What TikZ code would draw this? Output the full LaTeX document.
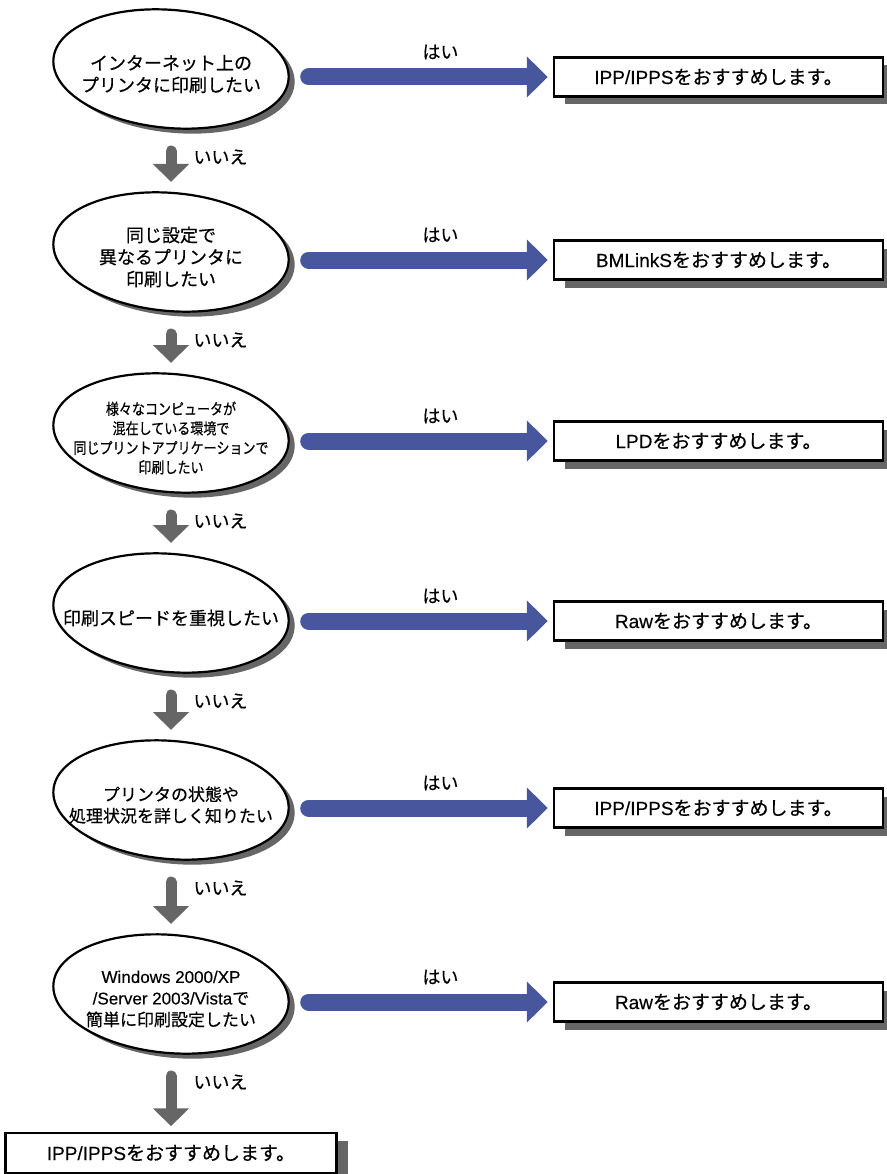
\documentclass[tikz,border=0pt]{standalone}
\usepackage{fontspec}
\newfontfamily\jpfont[FakeBold=0.5]{Noto Sans CJK JP}
\newfontfamily\jpnarrow[FakeStretch=0.84,FakeBold=0.5]{Noto Sans CJK JP}
\newfontfamily\enfont[FakeBold=0.3]{Liberation Sans}
\newcommand\en[1]{{\enfont #1}}
\usetikzlibrary{arrows.meta,shadows}
\pgfdeclarelayer{background}
\pgfsetlayers{background,main}
\definecolor{yesblue}{RGB}{72,86,158}
\definecolor{nogray}{RGB}{102,102,102}
\tikzset{
  question/.style={minimum width=236pt, inner sep=0pt, align=center, font=\jpfont\fontsize{18}{22}\selectfont},
  answer/.style={draw, line width=2.5pt, fill=white, minimum width=329pt, minimum height=39pt, inner sep=0pt,
    font=\jpfont\fontsize{19}{22}\selectfont, drop shadow={shadow xshift=11pt, shadow yshift=-8pt, opacity=1, fill=nogray}},
  bubble/.style={draw, line width=2.2pt, fill=white, drop shadow={shadow xshift=6pt, shadow yshift=-5pt, opacity=1, fill=nogray}},
  yesarrow/.style={yesblue, line width=17pt, line cap=round, -{Triangle[length=21pt,width=40pt]}, shorten >=5pt},
  noarrow/.style={nogray, line width=11pt, line cap=round, -{Triangle[length=18pt,width=35pt]}},
  reply/.style={black, inner sep=0pt, font=\jpfont\fontsize{18}{22}\selectfont},
}
\begin{document}
\begin{tikzpicture}[x=1pt,y=-1pt]
\useasboundingbox (0,0) rectangle (886,1174);
% questions
\node[question] (q1) at (171,74) {インターネット上の\\プリンタに印刷したい};
\node[question] (q2) at (171,257) {同じ設定で\\異なるプリンタに\\印刷したい};
\node[question, font=\jpnarrow\fontsize{15.5}{19.5}\selectfont] (q3) at (171,438) {様々なコンピュータが\\混在している環境で\\同じプリントアプリケーションで\\印刷したい};
\node[question] (q4) at (171,618) {印刷スピードを重視したい};
\node[question, font=\jpfont\fontsize{17}{21.5}\selectfont] (q5) at (171,805) {プリンタの状態や\\処理状況を詳しく知りたい};
\node[question, font=\jpfont\fontsize{17}{21.5}\selectfont] (q6) at (171,999) {\en{Windows 2000/XP}\\\en{/Server 2003/Vista}で\\簡単に印刷設定したい};
\begin{pgfonlayer}{background}
\foreach \n in {1,...,6}
  \draw[bubble, shift={([yshift=5pt]q\n.center)}, rotate=-5] (0,0) ellipse [x radius=118pt, y radius=59pt];
\end{pgfonlayer}
% answers
\node[answer] (a1) at (718.5,77) {\en{IPP/IPPS}をおすすめします。};
\node[answer] (a2) at (718.5,260) {\en{BMLinkS}をおすすめします。};
\node[answer] (a3) at (718.5,441) {\en{LPD}をおすすめします。};
\node[answer] (a4) at (718.5,621) {\en{Raw}をおすすめします。};
\node[answer] (a5) at (718.5,808) {\en{IPP/IPPS}をおすすめします。};
\node[answer] (a6) at (718.5,1002) {\en{Raw}をおすすめします。};
\node[answer, minimum width=331pt, minimum height=40pt] (f) at (171,1153) {\en{IPP/IPPS}をおすすめします。};
\foreach \n in {1,...,6}
  \draw[yesarrow] ([xshift=19.5pt, yshift=-3pt]q\n.east) -- (a\n) node[reply, pos=0.54, yshift=25pt] {はい};
\foreach \a/\b in {q1/q2,q2/q3,q3/q4,q4/q5,q5/q6}
  \draw[noarrow] ([yshift=-77pt]\a.center) -- ([yshift=75pt]\b.center) node[reply, pos=0, anchor=west, xshift=17pt, yshift=-6pt] {いいえ};
\draw[noarrow, shorten >=5.5pt] ([yshift=-77pt]q6.center) -- (f) node[reply, pos=0, anchor=west, xshift=17pt, yshift=-6pt] {いいえ};
\end{tikzpicture}
\end{document}
